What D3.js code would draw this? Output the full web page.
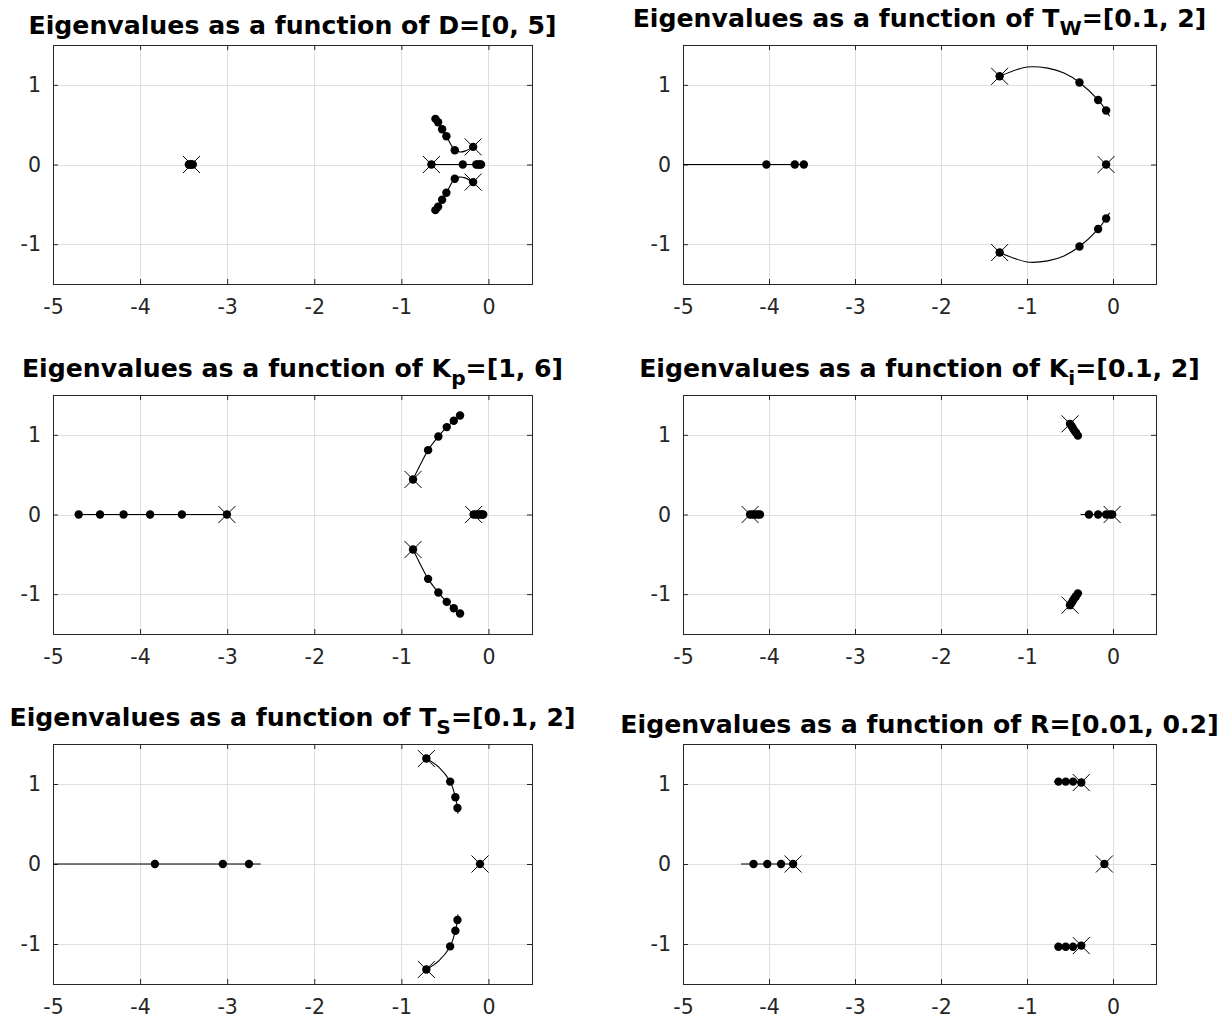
<!DOCTYPE html>
<html>
<head>
<meta charset="utf-8">
<script src="https://cdn.jsdelivr.net/npm/d3@7"></script>
<style>
  html, body { margin: 0; padding: 0; background: #fff; }
  svg { display: block; }
</style>
</head>
<body>
<div id="chart"></div>
<script>
// ---------- data ----------
const xTicks = [-5, -4, -3, -2, -1, 0];
const yTicks = [-1, 0, 1];
const xDomain = [-5, 0.5];
const yDomain = [-1.5, 1.5];

// title = [main text, subscript, tail]
const titleMain = ["Eigenvalues as a function of D=[0, 5]", "Eigenvalues as a function of T", "Eigenvalues as a function of K",
                   "Eigenvalues as a function of K", "Eigenvalues as a function of T", "Eigenvalues as a function of R=[0.01, 0.2]"];
const titleSub  = ["", "W", "p", "i", "S", ""];
const titleTail = ["", "=[0.1, 2]", "=[1, 6]", "=[0.1, 2]", "=[0.1, 2]", ""];

// Panel 1: D = [0, 5]
const p1Lines = [
  [[-0.609,0.573],[-0.578,0.53],[-0.532,0.443],[-0.483,0.355],[-0.387,0.179],[-0.33,0.158],[-0.27,0.168],[-0.176,0.221]],
  [[-0.609,-0.573],[-0.578,-0.53],[-0.532,-0.443],[-0.483,-0.355],[-0.387,-0.179],[-0.33,-0.158],[-0.27,-0.168],[-0.176,-0.221]],
  [[-0.655,0],[-0.08,0]],
  [[-3.44,0],[-3.39,0]]
];
const p1Dots = [[-0.609,0.573],[-0.578,0.53],[-0.532,0.443],[-0.483,0.355],[-0.387,0.179],[-0.176,0.221],
  [-0.609,-0.573],[-0.578,-0.53],[-0.532,-0.443],[-0.483,-0.355],[-0.387,-0.179],[-0.176,-0.221],
  [-0.655,0],[-0.295,0],[-0.14,0],[-0.12,0],[-0.10,0],[-0.085,0],
  [-3.44,0],[-3.425,0],[-3.41,0],[-3.395,0]];
const p1Crosses = [[-0.176,0.221],[-0.176,-0.221],[-0.655,0],[-3.41,0]];

// Panel 2: T_W = [0.1, 2]
const p2Lines = [
  [[-1.318,1.107],[-1.0,1.223],[-0.76,1.21],[-0.57,1.148],[-0.39,1.03],[-0.173,0.81],[-0.08,0.677],[-0.04,0.605]],
  [[-1.318,-1.105],[-1.0,-1.223],[-0.76,-1.21],[-0.57,-1.148],[-0.39,-1.03],[-0.173,-0.81],[-0.08,-0.677],[-0.04,-0.605]],
  [[-5.6,0],[-3.595,0]]
];
const p2Dots = [[-1.318,1.107],[-0.39,1.03],[-0.173,0.81],[-0.08,0.677],
  [-1.318,-1.105],[-0.39,-1.03],[-0.173,-0.81],[-0.08,-0.677],
  [-0.08,0],[-4.03,0],[-3.70,0],[-3.595,0]];
const p2Crosses = [[-1.318,1.107],[-1.318,-1.105],[-0.08,0]];

// Panel 3: K_p = [1, 6]
const p3Lines = [
  [[-0.866,0.44],[-0.78,0.63],[-0.693,0.808],[-0.575,0.98],[-0.479,1.097],[-0.398,1.176],[-0.326,1.243]],
  [[-0.866,-0.44],[-0.78,-0.63],[-0.693,-0.808],[-0.575,-0.98],[-0.479,-1.097],[-0.398,-1.176],[-0.326,-1.243]],
  [[-4.705,0],[-3.003,0]],
  [[-0.17,0],[-0.055,0]]
];
const p3Dots = [[-0.866,0.44],[-0.693,0.808],[-0.575,0.98],[-0.479,1.097],[-0.398,1.176],[-0.326,1.243],
  [-0.866,-0.44],[-0.693,-0.808],[-0.575,-0.98],[-0.479,-1.097],[-0.398,-1.176],[-0.326,-1.243],
  [-4.705,0],[-4.46,0],[-4.19,0],[-3.885,0],[-3.52,0],[-3.003,0],
  [-0.17,0],[-0.14,0],[-0.115,0],[-0.095,0],[-0.075,0],[-0.06,0]];
const p3Crosses = [[-0.866,0.44],[-0.866,-0.44],[-3.003,0],[-0.17,0]];

// Panel 4: K_i = [0.1, 2]
const p4Lines = [
  [[-0.50,1.138],[-0.408,0.99]],
  [[-0.50,-1.138],[-0.408,-0.99]],
  [[-0.377,0],[-0.01,0]],
  [[-4.25,0],[-4.10,0]]
];
const p4Dots = [[-0.50,1.138],[-0.482,1.11],[-0.465,1.08],[-0.447,1.05],[-0.43,1.025],[-0.408,0.99],
  [-0.50,-1.138],[-0.482,-1.11],[-0.465,-1.08],[-0.447,-1.05],[-0.43,-1.025],[-0.408,-0.99],
  [-0.28,0],[-0.173,0],[-0.08,0],[-0.03,0],[-0.01,0],
  [-4.22,0],[-4.19,0],[-4.16,0],[-4.13,0],[-4.105,0]];
const p4Crosses = [[-0.50,1.138],[-0.50,-1.138],[-0.01,0],[-4.22,0]];

// Panel 5: T_S = [0.1, 2]
const p5Lines = [
  [[-0.713,1.318],[-0.57,1.21],[-0.44,1.03],[-0.38,0.835],[-0.356,0.70],[-0.35,0.63]],
  [[-0.713,-1.318],[-0.57,-1.21],[-0.44,-1.03],[-0.38,-0.835],[-0.356,-0.70],[-0.35,-0.63]],
  [[-5.6,0],[-2.615,0]]
];
const p5Dots = [[-0.713,1.318],[-0.44,1.03],[-0.38,0.835],[-0.356,0.70],
  [-0.713,-1.318],[-0.44,-1.03],[-0.38,-0.835],[-0.356,-0.70],
  [-0.097,0],[-3.83,0],[-3.05,0],[-2.75,0]];
const p5Crosses = [[-0.713,1.318],[-0.713,-1.318],[-0.097,0]];

// Panel 6: R = [0.01, 0.2]
const p6Lines = [
  [[-0.684,1.03],[-0.369,1.018]],
  [[-0.684,-1.034],[-0.369,-1.02]],
  [[-4.325,0],[-3.72,0]]
];
const p6Dots = [[-0.634,1.03],[-0.55,1.03],[-0.465,1.03],[-0.369,1.018],
  [-0.634,-1.034],[-0.55,-1.034],[-0.465,-1.034],[-0.369,-1.02],
  [-4.18,0],[-4.02,0],[-3.86,0],[-3.72,0],[-0.10,0]];
const p6Crosses = [[-0.369,1.018],[-0.369,-1.02],[-3.72,0],[-0.10,0]];

// ---------- layout ----------
const W = 1232, H = 1021;
const colX = [[53, 532], [683, 1156]];
const rowY = [[45, 284], [395, 634], [744, 984]];
const panelData = [
  [p1Lines, p1Dots, p1Crosses], [p2Lines, p2Dots, p2Crosses],
  [p3Lines, p3Dots, p3Crosses], [p4Lines, p4Dots, p4Crosses],
  [p5Lines, p5Dots, p5Crosses], [p6Lines, p6Dots, p6Crosses]
];

const axisColor = "#262626";
const gridColor = "#dfdfdf";
const fontFamily = "'DejaVu Sans', sans-serif";
const tickFont = 20.5;
const titleFont = 25.2;
const tickLen = 5;

const svg = d3.select("#chart").append("svg")
  .attr("width", W).attr("height", H)
  .attr("viewBox", `0 0 ${W} ${H}`);
svg.append("rect").attr("width", W).attr("height", H).attr("fill", "#fff");

panelData.forEach((pd, i) => {
  const [lines, dots, crosses] = pd;
  const [x0, x1] = colX[i % 2];
  const [y0, y1] = rowY[Math.floor(i / 2)];
  const x = d3.scaleLinear().domain(xDomain).range([x0, x1]);
  const y = d3.scaleLinear().domain(yDomain).range([y1, y0]);
  const g = svg.append("g");

  const clipId = "clip" + i;
  g.append("clipPath").attr("id", clipId)
    .append("rect").attr("x", x0).attr("y", y0).attr("width", x1 - x0).attr("height", y1 - y0);

  // grid
  g.append("g").selectAll("line.gx").data(xTicks).join("line")
    .attr("x1", d => Math.round(x(d)) + 0.5).attr("x2", d => Math.round(x(d)) + 0.5)
    .attr("y1", y0).attr("y2", y1).attr("stroke", gridColor).attr("stroke-width", 1);
  g.append("g").selectAll("line.gy").data(yTicks).join("line")
    .attr("y1", d => Math.round(y(d)) + 0.5).attr("y2", d => Math.round(y(d)) + 0.5)
    .attr("x1", x0).attr("x2", x1).attr("stroke", gridColor).attr("stroke-width", 1);

  // axes via d3 axis generators (inner ticks on all 4 sides)
  const bottom = g.append("g").attr("transform", `translate(0,${y1})`)
    .call(d3.axisBottom(x).tickValues(xTicks).tickSizeInner(-tickLen).tickSizeOuter(0).tickPadding(15).tickFormat(d3.format("d")));
  const top = g.append("g").attr("transform", `translate(0,${y0})`)
    .call(d3.axisTop(x).tickValues(xTicks).tickSizeInner(-tickLen).tickSizeOuter(0).tickFormat(""));
  const left = g.append("g").attr("transform", `translate(${x0},0)`)
    .call(d3.axisLeft(y).tickValues(yTicks).tickSizeInner(-tickLen).tickSizeOuter(0).tickPadding(12).tickFormat(d3.format("d")));
  const right = g.append("g").attr("transform", `translate(${x1},0)`)
    .call(d3.axisRight(y).tickValues(yTicks).tickSizeInner(-tickLen).tickSizeOuter(0).tickFormat(""));
  [bottom, top, left, right].forEach(a => {
    a.select(".domain").remove();
    a.selectAll("line").attr("stroke", axisColor);
    a.selectAll("text").attr("fill", axisColor).style("font-family", fontFamily).style("font-size", tickFont + "px");
  });
  bottom.selectAll("text").text(d => d3.format("d")(d).replace("−", "-"));
  left.selectAll("text").text(d => d3.format("d")(d).replace("−", "-"));

  // box
  g.append("rect").attr("x", x0 + 0.5).attr("y", y0 + 0.5)
    .attr("width", x1 - x0).attr("height", y1 - y0)
    .attr("fill", "none").attr("stroke", axisColor).attr("stroke-width", 1);

  // data
  const plot = g.append("g").attr("clip-path", `url(#${clipId})`);
  const lineGen = d3.line().x(d => x(d[0])).y(d => y(d[1])).curve(d3.curveCatmullRom.alpha(0.5));
  plot.selectAll("path.locus").data(lines).join("path")
    .attr("d", lineGen).attr("fill", "none").attr("stroke", "#000").attr("stroke-width", 1.1);
  plot.selectAll("circle").data(dots).join("circle")
    .attr("cx", d => x(d[0])).attr("cy", d => y(d[1])).attr("r", 4.2).attr("fill", "#000");
  const s = 8.5;
  plot.selectAll("path.cross").data(crosses).join("path")
    .attr("d", d => {
      const cx = x(d[0]), cy = y(d[1]);
      return `M${cx - s},${cy - s}L${cx + s},${cy + s}M${cx - s},${cy + s}L${cx + s},${cy - s}`;
    })
    .attr("stroke", "#000").attr("stroke-width", 1).attr("fill", "none");

  // title
  const hasSub = titleSub[i] !== "";
  const t = svg.append("text")
    .attr("x", (x0 + x1) / 2)
    .attr("y", hasSub ? y0 - 18 : y0 - 11)
    .attr("text-anchor", "middle")
    .style("font-family", fontFamily).style("font-weight", "bold").style("font-size", titleFont + "px")
    .attr("fill", "#000");
  t.append("tspan").text(titleMain[i]);
  if (hasSub) {
    t.append("tspan").attr("dy", 8).style("font-size", (titleFont * 0.8) + "px").text(titleSub[i]);
    t.append("tspan").attr("dy", -8).text(titleTail[i]);
  }
});
</script>
</body>
</html>
